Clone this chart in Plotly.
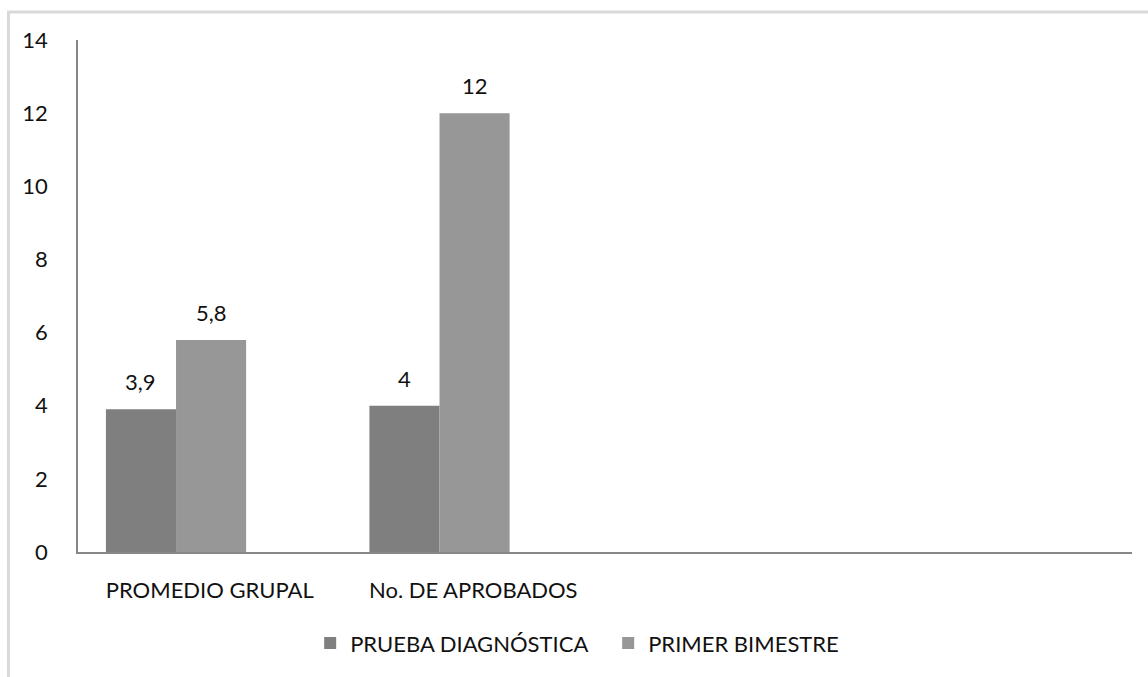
import plotly.graph_objects as go

# Chart data
categories = ["PROMEDIO GRUPAL", "No. DE APROBADOS"]
prueba_diagnostica = [3.9, 4]
primer_bimestre = [5.8, 12]
y_ticks = [0, 2, 4, 6, 8, 10, 12, 14]

FONT = "Lato, Open Sans, sans-serif"
FS = 22
TXT = "#111111"
COL_DIAG = "#7f7f7f"
COL_BIM = "#979797"

# bar geometry in category units (each category slot is 1 unit wide)
BAR_W = 0.266
OFF_DIAG = -0.394
OFF_BIM = OFF_DIAG + BAR_W

fig = go.Figure()
fig.add_trace(go.Bar(name="PRUEBA DIAGNÓSTICA", x=categories, y=prueba_diagnostica,
                     width=BAR_W, offset=OFF_DIAG,
                     marker=dict(color=COL_DIAG, line=dict(width=0))))
fig.add_trace(go.Bar(name="PRIMER BIMESTRE", x=categories, y=primer_bimestre,
                     width=BAR_W, offset=OFF_BIM,
                     marker=dict(color=COL_BIM, line=dict(width=0))))


def fmt(v):
    s = f"{v:.1f}".rstrip("0").rstrip(".")
    return s.replace(".", ",")


# value labels above each bar, centred over the bar
annotations = []
for vals, off in ((prueba_diagnostica, OFF_DIAG), (primer_bimestre, OFF_BIM)):
    for i, v in enumerate(vals):
        annotations.append(dict(x=i + off + BAR_W / 2, y=v, xref="x", yref="y", text=fmt(v),
                                showarrow=False, yanchor="bottom", yshift=12,
                                font=dict(family=FONT, size=FS, color=TXT)))

fig.update_layout(
    width=1148, height=677,
    margin=dict(l=78, r=16, t=40, b=125),
    paper_bgcolor="white", plot_bgcolor="white",
    barmode="overlay",
    font=dict(family=FONT, size=FS, color=TXT),
    showlegend=True,
    legend=dict(orientation="h", x=0.503, xanchor="center", y=-0.178, yanchor="middle",
                font=dict(family=FONT, size=FS, color=TXT),
                itemwidth=30, tracegroupgap=0,
                entrywidth=253, entrywidthmode="pixels"),
    xaxis=dict(type="category", range=[-0.5, 3.5], showline=True, linecolor="#878787",
               linewidth=2, showgrid=False, ticks="",
               tickfont=dict(family=FONT, size=FS, color=TXT), ticklabelstandoff=18),
    yaxis=dict(range=[0, 14], tickvals=y_ticks, showline=True, linecolor="#878787",
               linewidth=1.5, showgrid=False, zeroline=False, ticks="",
               tickfont=dict(family=FONT, size=FS, color=TXT), ticklabelstandoff=24),
    annotations=annotations,
    shapes=[
        # light frame around the chart (top and left edges)
        dict(type="line", xref="paper", yref="paper",
             x0=(7 - 78) / 1054, x1=(1148 - 78) / 1054,
             y0=(552 - 12) / 512, y1=(552 - 12) / 512,
             line=dict(color="#d9d9d9", width=3)),
        dict(type="line", xref="paper", yref="paper",
             x0=(8.5 - 78) / 1054, x1=(8.5 - 78) / 1054,
             y0=(552 - 12) / 512, y1=(552 - 677) / 512,
             line=dict(color="#d9d9d9", width=3)),
    ],
)

fig.write_html("out.html")
